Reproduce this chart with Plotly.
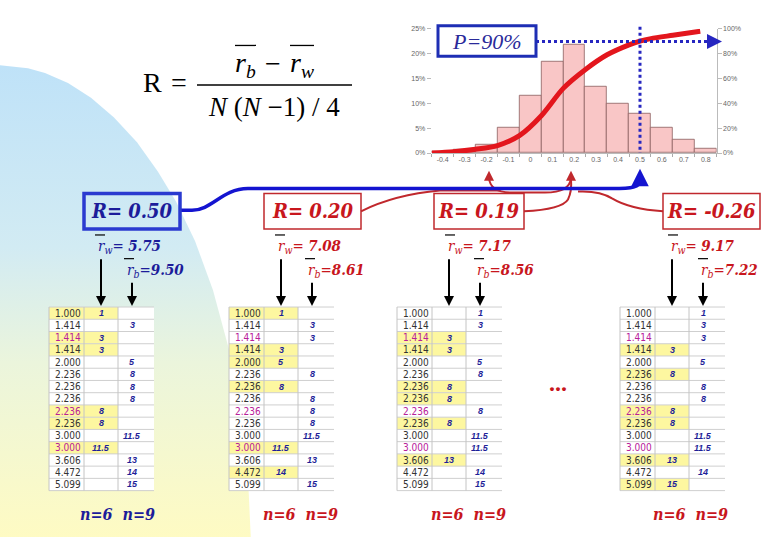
import plotly.graph_objects as go

# ---------------- data ----------------
bin_centers = [-0.4, -0.3, -0.2, -0.1, 0.0, 0.1, 0.2, 0.3, 0.4, 0.5, 0.6, 0.7, 0.8]
bin_labels = ["-0.4", "-0.3", "-0.2", "-0.1", "0", "0.1", "0.2", "0.3", "0.4", "0.5", "0.6", "0.7", "0.8"]
freq_pct = [0.3, 0.6, 1.7, 5.1, 11.6, 18.4, 21.8, 13.3, 10.0, 7.9, 5.0, 2.6, 0.8]
cum_x = [-0.45, -0.35, -0.25, -0.15, -0.05, 0.05, 0.15, 0.25, 0.35, 0.45, 0.5, 0.55, 0.65, 0.775]
cum_pct = [0, 1, 3, 6, 14, 30, 52, 67, 79, 87, 90, 92, 94.7, 98]
left_ticks = [0, 5, 10, 15, 20, 25]
right_ticks = [0, 20, 40, 60, 80, 100]

distances = ["1.000", "1.414", "1.414", "1.414", "2.000", "2.236", "2.236", "2.236",
             "2.236", "2.236", "3.000", "3.000", "3.606", "4.472", "5.099"]
ranks = ["1", "3", "3", "3", "5", "8", "8", "8", "8", "8", "11.5", "11.5", "13", "14", "15"]
colored_rows = [2, 8, 11]

panel_R = ["0.50", "0.20", "0.19", "-0.26"]
panel_rw = ["5.75", "7.08", "7.17", "9.17"]
panel_rb = ["9.50", "8.61", "8.56", "7.22"]
within_rows = [[0, 2, 3, 8, 9, 11], [0, 3, 4, 6, 11, 13], [2, 3, 6, 7, 9, 12], [3, 5, 8, 9, 12, 14]]
n_text = "n=6  n=9"
p_text = "P=90%"

# ---------------- layout constants ----------------
W, H = 780, 540
BLUE = "#1c1c9a"
RED = "#c8161d"
panel_left = [49, 229, 397, 620]
box_x = [(84, 180), (264, 361), (434, 524), (663, 760)]
rw_x = [96, 276, 446, 669]
rb_x = [125, 306, 475, 699]
n_x = [117, 300, 468, 690]
TOP, ROWH = 307, 12.4
COLW = [35, 34, 36]
SERIF = "Liberation Serif, Times New Roman, serif"
BI = "DejaVu Serif Condensed, DejaVu Serif, serif"

fig = go.Figure()

# background decorative gradient region (pixel canvas axes)
bg_x = [-5, -5, 0, 28, 45, 68, 91, 114, 137, 158, 176, 195, 213, 229, 242, 248, 251, -5]
bg_y = [545, 62, 62, 65, 70, 80, 95, 115, 140, 170, 200, 240, 290, 350, 420, 480, 545, 545]
fig.add_trace(go.Scatter(
    x=bg_x, y=bg_y, mode="lines", line=dict(width=0),
    fill="toself",
    fillgradient=dict(type="vertical", start=62, stop=540,
                      colorscale=[[0, "#bfe2f8"], [0.38, "#d2ebf3"], [0.62, "#ebf5dc"], [1, "#fffbc2"]]),
    hoverinfo="skip", showlegend=False, xaxis="x", yaxis="y"))

# histogram
fig.add_trace(go.Bar(
    x=bin_centers, y=freq_pct, width=0.1, xaxis="x2", yaxis="y2",
    marker=dict(color="#f9c6c6", line=dict(color="#8a5e5e", width=0.8)),
    showlegend=False, hoverinfo="skip"))
# cumulative curve
fig.add_trace(go.Scatter(
    x=cum_x, y=cum_pct, xaxis="x2", yaxis="y3", mode="lines",
    line=dict(color="#e3161d", width=5, shape="spline", smoothing=0.8),
    showlegend=False, hoverinfo="skip"))

shapes = []
annotations = []


def txt(x, y, text, size, color, family=SERIF, xanchor="center", yanchor="middle",
        weight="normal", style="normal"):
    annotations.append(dict(x=x, y=y, xref="x", yref="y", text=text, showarrow=False,
                            font=dict(size=size, color=color, family=family,
                                      weight=weight, style=style),
                            xanchor=xanchor, yanchor=yanchor))


def arrow(x, y, ax, ay, color, width):
    annotations.append(dict(x=x, y=y, ax=ax, ay=ay, xref="x", yref="y", axref="x", ayref="y",
                            text="", showarrow=True, arrowhead=2, arrowsize=1,
                            arrowwidth=width, arrowcolor=color))


def line(x0, y0, x1, y1, color, width, dash="solid"):
    shapes.append(dict(type="line", x0=x0, y0=y0, x1=x1, y1=y1, xref="x", yref="y",
                       line=dict(color=color, width=width, dash=dash)))


# ---------------- formula ----------------
txt(152, 80, "R", 28, "black")
txt(179, 80, "=", 28, "black")
line(197, 82, 352, 82, "black", 1.6)
txt(245, 61, "<i>r</i><sub><i>b</i></sub>", 28, "black")
txt(273, 60, "−", 28, "black")
txt(302, 61, "<i>r</i><sub><i>w</i></sub>", 28, "black")
line(235, 42, 256, 42, "black", 1.3)
line(290, 42, 314, 42, "black", 1.3)
txt(274, 104, "<i>N</i> (<i>N</i> −1) / 4", 27, "black")

# ---------------- P=90% box and dotted guides ----------------
line(536, 38, 712, 38, "#2626c0", 3, "dot")
line(640, 23, 640, 151, "#2626c0", 3, "dot")
arrow(722, 38, 708, 38, "#2626c0", 3)
shapes.append(dict(type="rect", x0=438, y0=22, x1=536, y1=53, xref="x", yref="y",
                   line=dict(color="#1e2eb4", width=3), fillcolor="white"))
txt(487, 38, p_text, 22, "#2a2a9a", style="italic")

# ---------------- connecting curves ----------------
shapes.append(dict(type="path", xref="x", yref="y",
                   path="M 361,210 Q 395,193 440,189 L 500,189",
                   line=dict(color="#c0282d", width=2)))
shapes.append(dict(type="path", xref="x", yref="y",
                   path="M 489,176 Q 490,191 512,191 L 545,191 Q 570,191 571,176",
                   line=dict(color="#c0282d", width=2)))
shapes.append(dict(type="path", xref="x", yref="y",
                   path="M 524,210 Q 562,208 568,198 Q 572,190 571,178",
                   line=dict(color="#c0282d", width=2)))
shapes.append(dict(type="path", xref="x", yref="y",
                   path="M 663,210 Q 630,208 612,197 Q 600,189 578,190",
                   line=dict(color="#c0282d", width=2)))
arrow(489, 169, 489, 178, "#c0282d", 2)
arrow(571, 169, 571, 178, "#c0282d", 2)
shapes.append(dict(type="path", xref="x", yref="y",
                   path="M 180,209 L 192,209 C 212,209 222,187 248,187 L 612,187 C 632,187 640,186 640,178",
                   line=dict(color="#1414d0", width=3.5)))
arrow(640, 167, 640, 180, "#1414d0", 3.5)

# ---------------- panels ----------------
for p in range(4):
    col = BLUE if p == 0 else RED
    bx0, bx1 = box_x[p]
    shapes.append(dict(type="rect", x0=bx0, y0=192, x1=bx1, y1=228, xref="x", yref="y",
                       line=dict(color="#2a3ad0" if p == 0 else "#c0282d", width=3.5 if p == 0 else 1.5),
                       fillcolor="rgba(0,0,0,0)"))
    txt((bx0 + bx1) / 2, 210, "R= " + panel_R[p], 20, col, family=BI,
        weight="bold", style="italic")

    # r_w and r_b labels
    txt(rw_x[p], 246, "<i>r</i><sub><i>w</i></sub>= <b><i>" + panel_rw[p] + "</i></b>", 15, col,
        family=BI, xanchor="left")
    line(rw_x[p] - 1, 234, rw_x[p] + 9, 234, "black", 1.2)
    txt(rb_x[p], 270, "<i>r</i><sub><i>b</i></sub>=<b><i>" + panel_rb[p] + "</i></b>", 15, col,
        family=BI, xanchor="left")
    line(rb_x[p] - 1, 258, rb_x[p] + 9, 258, "black", 1.2)

    L = panel_left[p]
    c1 = L + COLW[0]
    c2 = c1 + COLW[1]
    c3 = c2 + COLW[2]
    arrow(L + 52, 306, L + 52, 257, "black", 2)
    arrow(L + 83, 306, L + 83, 281, "black", 2)

    bottom = TOP + 15 * ROWH
    shapes.append(dict(type="rect", x0=L, y0=TOP, x1=c3, y1=bottom, xref="x", yref="y",
                       line=dict(width=0), fillcolor="white"))
    for i in range(15):
        y0 = TOP + i * ROWH
        if i in within_rows[p]:
            shapes.append(dict(type="rect", x0=L, y0=y0, x1=c2, y1=y0 + ROWH, xref="x", yref="y",
                               line=dict(width=0), fillcolor="#fdf7a0"))
    for i in range(16):
        y0 = TOP + i * ROWH
        line(L, y0, c3, y0, "#cfcfcf", 1)
    for xv in (L, c1, c2):
        line(xv, TOP, xv, bottom, "#c4c4c4", 1)
    for i in range(15):
        yc = TOP + (i + 0.5) * ROWH
        dcol = "#b8209a" if i in colored_rows else "#333333"
        txt(L + 19, yc, distances[i], 10, dcol,
            family="Liberation Sans Narrow, DejaVu Sans Condensed, Arial, sans-serif")
        rx = L + 52 if i in within_rows[p] else L + 83
        txt(rx, yc, ranks[i], 9, "#1f1f99",
            family="Liberation Sans, Arial, sans-serif", weight="bold", style="italic")

    txt(n_x[p], 517, n_text, 16, col, family=BI, weight="bold", style="italic")

txt(558, 384, "...", 24, RED, weight="bold")

fig.update_layout(
    width=W, height=H, margin=dict(l=0, r=0, t=0, b=0),
    paper_bgcolor="white", plot_bgcolor="rgba(0,0,0,0)",
    showlegend=False, bargap=0,
    xaxis=dict(domain=[0, 1], range=[0, W], visible=False, fixedrange=True),
    yaxis=dict(domain=[0, 1], range=[H, 0], visible=False, fixedrange=True),
    xaxis2=dict(domain=[431.7 / W, 716.7 / W], anchor="y2", range=[-0.45, 0.85],
                tickmode="array", tickvals=bin_centers, ticktext=bin_labels,
                tickfont=dict(size=7, color="#666", family="Arial"), ticks="",
                showline=True, linecolor="#bbbbbb", linewidth=1, showgrid=False, zeroline=False,
                minor=dict(ticks="outside", ticklen=3, tickcolor="#aaaaaa", tickmode="linear",
                           tick0=-0.45, dtick=0.1, showgrid=False),
                fixedrange=True),
    yaxis2=dict(domain=[1 - 151 / H, 1 - 25 / H], anchor="x2", range=[0, 25],
                tickmode="array", tickvals=left_ticks, ticktext=[f"{v}%" for v in left_ticks],
                tickfont=dict(size=7, color="#666", family="Arial"), ticks="outside", ticklen=4,
                tickcolor="#bbbbbb", showgrid=False, zeroline=False, showline=False,
                fixedrange=True),
    yaxis3=dict(overlaying="y2", anchor="x2", side="right", range=[0, 100],
                tickmode="array", tickvals=right_ticks, ticktext=[f"{v}%" for v in right_ticks],
                tickfont=dict(size=7, color="#666", family="Arial"), ticks="outside", ticklen=4,
                tickcolor="#bbbbbb", showgrid=False, zeroline=False, showline=True,
                linecolor="#bbbbbb", fixedrange=True),
    shapes=shapes, annotations=annotations,
)

fig.write_html("out.html", config={"displayModeBar": False},
               post_script="document.body.style.margin='0px';document.body.style.overflow='hidden';")
